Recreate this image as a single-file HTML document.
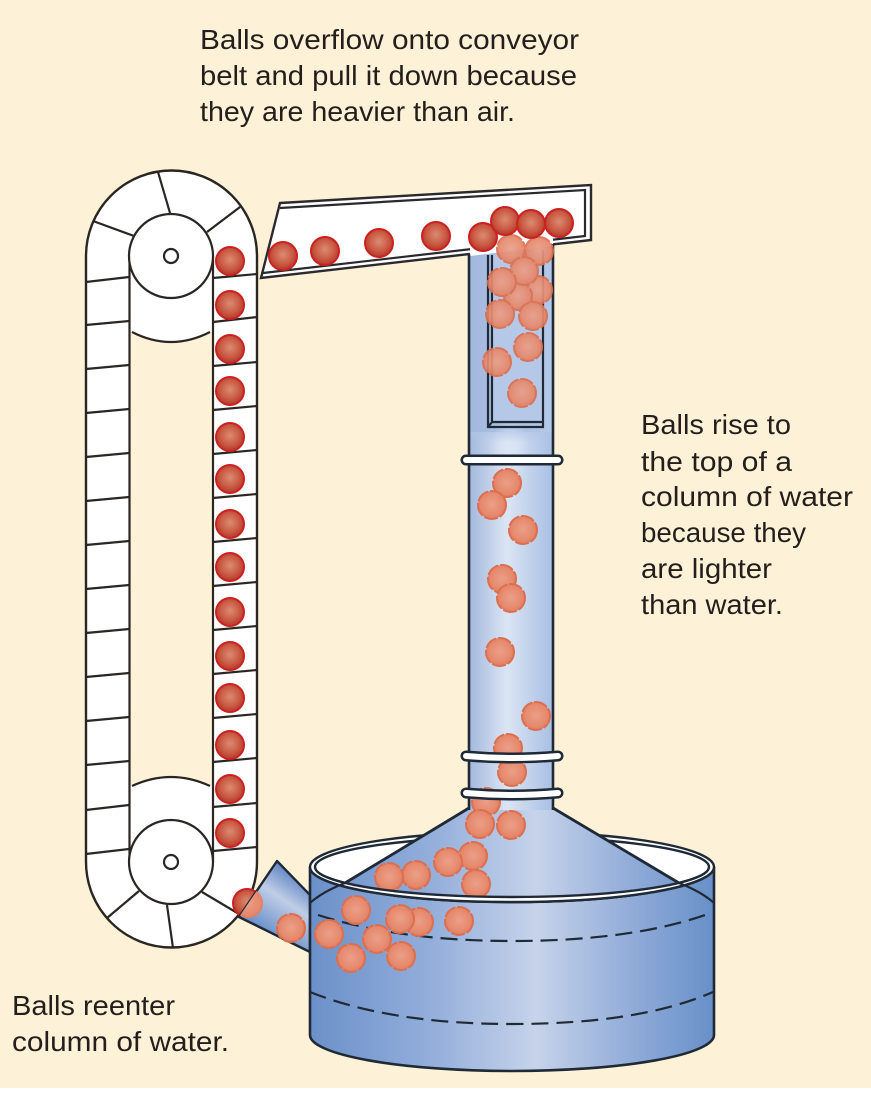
<!DOCTYPE html>
<html><head><meta charset="utf-8"><style>
html,body{margin:0;padding:0;background:#fff}
svg{display:block}
text{font-family:"Liberation Sans",sans-serif;font-size:28px;fill:#241f1c}
</style></head><body>
<svg width="871" height="1096" viewBox="0 0 871 1096" xmlns="http://www.w3.org/2000/svg">
<defs>
<radialGradient id="red" cx=".5" cy=".45" r=".55"><stop offset="0" stop-color="#d98c73"/><stop offset=".6" stop-color="#cc5c45"/><stop offset="1" stop-color="#b5382b"/></radialGradient>
<radialGradient id="pale" cx=".5" cy=".48" r=".55"><stop offset="0" stop-color="#eb9f88"/><stop offset=".7" stop-color="#e68a6e"/><stop offset="1" stop-color="#df7a5c"/></radialGradient>
<linearGradient id="tank" gradientUnits="userSpaceOnUse" x1="310" y1="0" x2="714" y2="0"><stop offset="0" stop-color="#6b90c9"/><stop offset=".3" stop-color="#93aedb"/><stop offset=".56" stop-color="#c6d3ea"/><stop offset=".8" stop-color="#90abd8"/><stop offset="1" stop-color="#6790c8"/></linearGradient>
<linearGradient id="col" gradientUnits="userSpaceOnUse" x1="469" y1="0" x2="553" y2="0"><stop offset="0" stop-color="#a3b8dd"/><stop offset=".45" stop-color="#dbe5f4"/><stop offset="1" stop-color="#a8bfe3"/></linearGradient>
<linearGradient id="colTop" gradientUnits="userSpaceOnUse" x1="469" y1="0" x2="553" y2="0"><stop offset="0" stop-color="#a3b8dd"/><stop offset="1" stop-color="#b4c8e8"/></linearGradient>
<linearGradient id="fade" x1="0" y1="0" x2="0" y2="1"><stop offset="0" stop-color="#b0c4e6"/><stop offset="1" stop-color="#b0c4e6" stop-opacity="0"/></linearGradient>
<radialGradient id="glow"><stop offset="0" stop-color="#dbe5f4"/><stop offset="1" stop-color="#dbe5f4" stop-opacity="0"/></radialGradient>
<linearGradient id="chute" gradientUnits="userSpaceOnUse" x1="277" y1="861" x2="239" y2="917"><stop offset="0" stop-color="#5f86c2"/><stop offset=".42" stop-color="#bfcde7"/><stop offset="1" stop-color="#668dc7"/></linearGradient>
<clipPath id="chuteClip"><polygon points="277,861 310,895 310,952 239,917"/></clipPath>
</defs>

<rect width="871" height="1088" fill="#fdf1d8"/>

<!-- conveyor -->
<path d="M86,256 A85.5,85.5 0 0 1 257,256 V862 A85.5,85.5 0 0 1 86,862 Z" fill="#fff" stroke="#2a2622" stroke-width="2.4"/>
<path d="M130,332 Q171,352 212,332 V786 Q171,768 130,786 Z" fill="#fdf1d8"/>
<g fill="none" stroke="#2a2622" stroke-width="2.2">
<path d="M132,332 Q171,352 210,332"/>
<path d="M132,786 Q171,768 210,786"/>
<path d="M129.500,256 V862 M213,256 V862"/>
<path d="M93,221 L134,236 M158,172 L170,213 M240,207 L207,232"/>
<path d="M107,918 L139,891 M167,905 L173,948 M202,892 L239,914"/>
<path d="M86,282 L129,277 M86,325 L129,321 M86,369 L129,365 M86,413 L129,409 M86,457 L129,453 M86,501 L129,497 M86,545 L129,541 M86,589 L129,585 M86,633 L129,629 M86,677 L129,673 M86,721 L129,717 M86,765 L129,761 M86,810 L129,805 M86,854 L129,849"/>
<path d="M213,278 L257,274 M213,322 L257,317 M213,366 L257,362 M213,410 L257,406 M213,454 L257,450 M213,498 L257,494 M213,542 L257,538 M213,586 L257,582 M213,630 L257,626 M213,674 L257,670 M213,718 L257,714 M213,762 L257,758 M213,807 L257,803 M213,851 L257,847"/>
<circle cx="171" cy="256" r="42" fill="#fff"/><circle cx="171" cy="256" r="7" fill="#fff"/>
<circle cx="171" cy="862" r="42" fill="#fff"/><circle cx="171" cy="862" r="7" fill="#fff"/>
</g>
<g fill="url(#red)" stroke="#cb2120" stroke-width="2">
<circle cx="230" cy="261" r="14"/><circle cx="230" cy="305" r="14"/><circle cx="230" cy="349" r="14"/><circle cx="230" cy="391" r="14"/><circle cx="230" cy="437" r="14"/><circle cx="230" cy="479" r="14"/><circle cx="230" cy="524" r="14"/><circle cx="230" cy="567" r="14"/><circle cx="230" cy="612" r="14"/><circle cx="230" cy="656" r="14"/><circle cx="230" cy="698" r="14"/><circle cx="230" cy="745" r="14"/><circle cx="230" cy="789" r="14"/><circle cx="230" cy="833" r="14"/>
<circle cx="247" cy="903" r="14"/>
</g>

<!-- chute -->
<polygon points="277,861 310,895 310,952 239,917" fill="url(#chute)" stroke="#1f2a36" stroke-width="2.4" stroke-linejoin="round"/>
<g clip-path="url(#chuteClip)"><circle cx="248" cy="903" r="15" fill="url(#pale)"/></g>
<circle cx="291" cy="928" r="14" fill="url(#pale)" stroke="#dc6f50" stroke-width="2" stroke-dasharray="14 2"/>

<!-- trough -->
<polygon points="280,203 591,185 591,240 261,278" fill="#fff" stroke="#2a2a2e" stroke-width="2.4" stroke-linejoin="miter"/>
<polyline points="280,208 585,190 585,236 263,273" fill="none" stroke="#2a2a2e" stroke-width="2.2"/>

<!-- tank -->
<path d="M310,867 V1035 A202,36 0 0 0 714,1035 V867 A202,35 0 0 1 310,867 Z" fill="url(#tank)" stroke="#1f2a36" stroke-width="2.6"/>
<ellipse cx="512" cy="867" rx="202" ry="35" fill="#fff" stroke="#1f2a36" stroke-width="2.4"/>
<ellipse cx="512" cy="867" rx="197" ry="30" fill="#fff" stroke="#1f2a36" stroke-width="2.4"/>

<!-- funnel -->
<path d="M469,808 L345,883 A197,30 0 0 0 679,883 L553,808 Z" fill="url(#tank)"/>
<path d="M469,808 L345,883 M553,808 L679,883" fill="none" stroke="#1f2a36" stroke-width="2.8"/>

<!-- column -->
<path d="M469,254 L553,244 V810 H469 Z" fill="url(#col)"/>
<path d="M469,254 L553,244 V432 H469 Z" fill="url(#colTop)"/>
<ellipse cx="510" cy="450" rx="20" ry="32" fill="url(#glow)"/>
<rect x="470" y="432" width="82" height="10" fill="url(#fade)" opacity=".6"/>
<polygon points="470,247 553,237 553,246 470,256" fill="#fff"/>
<path d="M469,254 V810 M553,244 V810" fill="none" stroke="#1f2a36" stroke-width="2.6"/>
<rect x="492" y="255" width="51" height="167" fill="#b5c8e8"/>
<path d="M488,255 V427 H543 V250 M492,255 V422 H543 M488,427 L492,422" fill="none" stroke="#1f2a36" stroke-width="2.2"/>

<!-- balls in column -->
<g fill="url(#pale)" stroke="#dc6f50" stroke-width="2" stroke-dasharray="14 2">
<g opacity=".92">
<circle cx="538" cy="290" r="14"/><circle cx="518" cy="296" r="14"/>
<circle cx="511" cy="249" r="14"/><circle cx="539" cy="251" r="14"/><circle cx="524" cy="271" r="14"/><circle cx="502" cy="282" r="14"/>
<circle cx="500" cy="314" r="14"/><circle cx="533" cy="316" r="14"/><circle cx="528" cy="347" r="14"/><circle cx="497" cy="362" r="14"/><circle cx="522" cy="393" r="14"/>
</g>
<circle cx="507" cy="483" r="14"/><circle cx="492" cy="505" r="14"/><circle cx="523" cy="530" r="14"/><circle cx="502" cy="579" r="14"/><circle cx="511" cy="598" r="14"/><circle cx="500" cy="652" r="14"/><circle cx="536" cy="716" r="14"/><circle cx="508" cy="748" r="14"/><circle cx="512" cy="772" r="14"/><circle cx="486" cy="802" r="14"/><circle cx="480" cy="824" r="14"/><circle cx="511" cy="825" r="14"/>
<circle cx="473" cy="856" r="14"/><circle cx="448" cy="862" r="14"/><circle cx="416" cy="875" r="14"/><circle cx="389" cy="877" r="14"/><circle cx="476" cy="884" r="14"/>
</g>

<!-- red balls in trough -->
<g fill="url(#red)" stroke="#cb2120" stroke-width="2">
<circle cx="283" cy="256" r="14"/><circle cx="325" cy="251" r="14"/><circle cx="379" cy="243" r="14"/><circle cx="436" cy="236" r="14"/><circle cx="483" cy="237" r="14"/><circle cx="505" cy="221" r="14"/><circle cx="531" cy="224" r="14"/><circle cx="559" cy="223" r="14"/>
</g>

<!-- collars -->
<g fill="none" stroke-linecap="round">
<path d="M466,460 H558" stroke="#1f2a36" stroke-width="11"/><path d="M466,460 H558" stroke="#fff" stroke-width="6"/>
<path d="M466,756 Q512,760 558,756" stroke="#1f2a36" stroke-width="11"/><path d="M466,756 Q512,760 558,756" stroke="#fff" stroke-width="6"/>
<path d="M466,793 Q512,797 558,793" stroke="#1f2a36" stroke-width="11"/><path d="M466,793 Q512,797 558,793" stroke="#fff" stroke-width="6"/>
</g>

<!-- front rim -->
<path d="M312,867 A199.500,32.500 0 0 0 712,867" fill="none" stroke="#fff" stroke-width="5"/>
<path d="M310,867 A202,35 0 0 0 714,867" fill="none" stroke="#1f2a36" stroke-width="2.4"/>
<path d="M315,867 A197,30 0 0 0 709,867" fill="none" stroke="#1f2a36" stroke-width="2.4"/>
<path d="M310,903 Q322,892 345,883 M714,903 Q702,892 679,883" fill="none" stroke="#1f2a36" stroke-width="2.2"/>

<!-- dashed water lines -->
<g fill="none" stroke="#1f2a36" stroke-width="2.2" stroke-dasharray="17 8">
<path d="M318,915 Q400,941 512,941 Q630,941 705,915"/>
<path d="M310,992 Q390,1024 512,1024 Q640,1024 713,992"/>
</g>

<!-- balls in tank -->
<g fill="url(#pale)" stroke="#dc6f50" stroke-width="2" stroke-dasharray="14 2">
<circle cx="419" cy="922" r="14"/><circle cx="356" cy="910" r="14"/><circle cx="400" cy="919" r="14"/><circle cx="459" cy="921" r="14"/><circle cx="329" cy="934" r="14"/><circle cx="377" cy="939" r="14"/><circle cx="351" cy="958" r="14"/><circle cx="401" cy="956" r="14"/>
</g>

<!-- labels -->
<text x="200" y="49" textLength="379" lengthAdjust="spacingAndGlyphs">Balls overflow onto conveyor</text>
<text x="200" y="85" textLength="377" lengthAdjust="spacingAndGlyphs">belt and pull it down because</text>
<text x="200" y="121" textLength="315" lengthAdjust="spacingAndGlyphs">they are heavier than air.</text>
<text x="641" y="434" textLength="150" lengthAdjust="spacingAndGlyphs">Balls rise to</text>
<text x="641" y="471" textLength="151" lengthAdjust="spacingAndGlyphs">the top of a</text>
<text x="641" y="506" textLength="212" lengthAdjust="spacingAndGlyphs">column of water</text>
<text x="641" y="542" textLength="165" lengthAdjust="spacingAndGlyphs">because they</text>
<text x="641" y="578" textLength="131" lengthAdjust="spacingAndGlyphs">are lighter</text>
<text x="641" y="614" textLength="142" lengthAdjust="spacingAndGlyphs">than water.</text>
<text x="12" y="1015" textLength="163" lengthAdjust="spacingAndGlyphs">Balls reenter</text>
<text x="12" y="1051" textLength="217" lengthAdjust="spacingAndGlyphs">column of water.</text>
</svg>
</body></html>
